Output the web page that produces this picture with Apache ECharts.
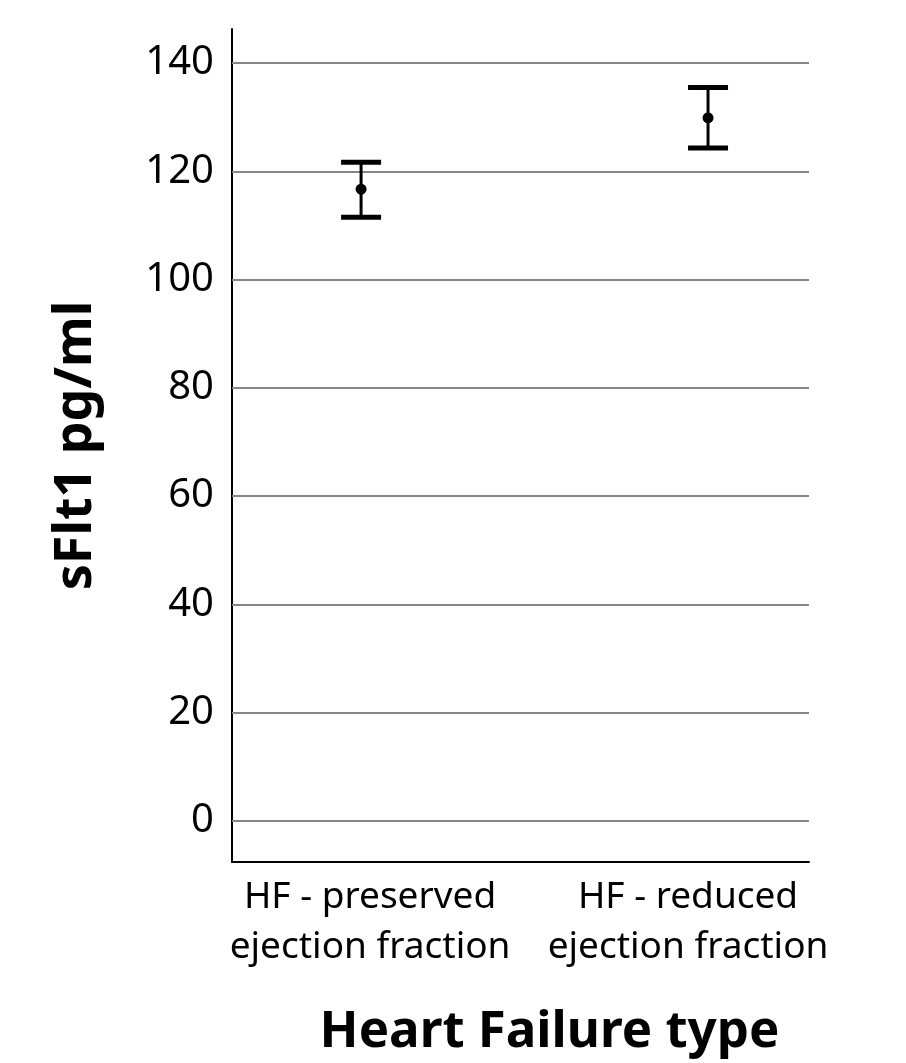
<!DOCTYPE html>
<html>
<head>
<meta charset="utf-8">
<script src="https://cdn.jsdelivr.net/npm/echarts@6/dist/echarts.min.js"></script>
<style>
html,body{margin:0;padding:0;background:#fff;}
#chart{width:906px;height:1063px;}
</style>
</head>
<body>
<div id="chart"></div>
<script>
const categories = ['HF - preserved\nejection fraction', 'HF - reduced\nejection fraction'];
const means = [116.7, 129.9];
const upper = [121.7, 135.5];
const lower = [111.5, 124.3];
const yTicks = [0, 20, 40, 60, 80, 100, 120, 140];
const yAxisTitle = 'sFlt1 pg/ml';
const xAxisTitle = 'Heart Failure type';

const FONT = 'Noto Sans';
const chart = echarts.init(document.getElementById('chart'), null, {renderer: 'canvas'});

const barData = categories.map((c, i) => [i, means[i], lower[i], upper[i]]);

const option = {
  animation: false,
  backgroundColor: '#fff',
  grid: {left: 232, right: 97, top: 29, bottom: 200},
  xAxis: {
    type: 'value',
    min: -0.372,
    max: 1.291,
    splitLine: {show: false},
    axisTick: {show: false},
    axisLine: {show: true, onZero: false, lineStyle: {color: '#000', width: 2}},
    axisLabel: {
      customValues: [0, 1],
      margin: 10,
      color: '#000',
      fontFamily: FONT,
      fontSize: 37,
      lineHeight: 50,
      formatter: function (v) {
        const i = Math.round(v);
        const style = i === 0 ? 'a' : 'b';
        return categories[i].split('\n').map(s => '{' + style + '|' + s + '}').join('\n');
      },
      rich: {
        a: {fontFamily: FONT, fontSize: 37, lineHeight: 50, color: '#000', padding: [0, 0, 0, 18]},
        b: {fontFamily: FONT, fontSize: 37, lineHeight: 50, color: '#000', padding: [0, 40, 0, 0]}
      }
    },
    name: xAxisTitle,
    nameLocation: 'middle',
    nameGap: 145,
    nameTextStyle: {fontFamily: FONT, fontSize: 51, fontWeight: 'bold', color: '#000', padding: [0, 0, 0, 58]}
  },
  yAxis: {
    type: 'value',
    min: -7.6,
    max: 146.3,
    splitLine: {show: false},
    axisTick: {show: false},
    axisLine: {show: true, onZero: false, lineStyle: {color: '#000', width: 2}},
    axisLabel: {
      customValues: yTicks,
      margin: 18,
      color: '#000',
      fontFamily: FONT,
      fontSize: 40
    },
    name: yAxisTitle,
    nameLocation: 'middle',
    nameGap: 130,
    nameTextStyle: {fontFamily: FONT, fontSize: 52, fontWeight: 'bold', color: '#000'}
  },
  series: [
    {
      type: 'line',
      data: [],
      silent: true,
      markLine: {
        silent: true,
        symbol: ['none', 'none'],
        label: {show: false},
        lineStyle: {color: '#858585', width: 2, type: 'solid'},
        data: yTicks.map(v => ({yAxis: v}))
      },
      z: 1
    },
    {
      type: 'custom',
      z: 5,
      data: barData,
      renderItem: function (params, api) {
        const x = api.value(0);
        const m = api.coord([x, api.value(1)]);
        const lo = api.coord([x, api.value(2)]);
        const hi = api.coord([x, api.value(3)]);
        const hw = 20;
        return {
          type: 'group',
          children: [
            {type: 'line', shape: {x1: lo[0], y1: lo[1], x2: hi[0], y2: hi[1]}, style: {stroke: '#000', lineWidth: 3}},
            {type: 'line', shape: {x1: hi[0] - hw, y1: hi[1], x2: hi[0] + hw, y2: hi[1]}, style: {stroke: '#000', lineWidth: 5}},
            {type: 'line', shape: {x1: lo[0] - hw, y1: lo[1], x2: lo[0] + hw, y2: lo[1]}, style: {stroke: '#000', lineWidth: 5}},
            {type: 'circle', shape: {cx: m[0], cy: m[1], r: 5.5}, style: {fill: '#000'}}
          ]
        };
      }
    }
  ]
};
chart.setOption(option);
</script>
</body>
</html>
